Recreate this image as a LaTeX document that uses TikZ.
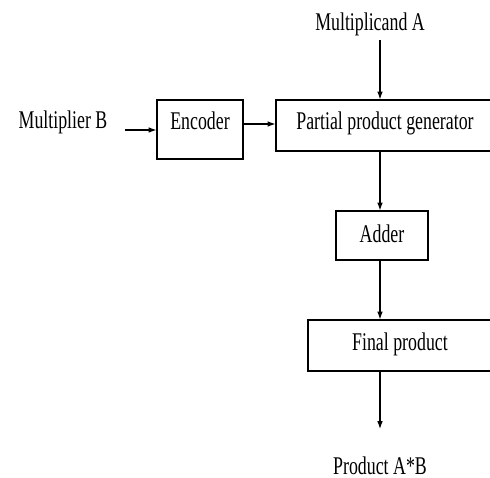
\documentclass[tikz,border=0pt]{standalone}
\usepackage{fontspec}
\setmainfont{Liberation Serif}
\usepackage{graphicx}
\usetikzlibrary{arrows.meta,calc}

\newcommand{\nar}[1]{\scalebox{0.7}[1]{#1}}

\begin{document}
\begin{tikzpicture}[
        x=0.02cm,y=-0.02cm,
        txt/.style={
          font=\fontsize{14.5}{17}\selectfont,
          inner sep=0pt,
          anchor=base
          },
        blk/.style={
          txt,
          draw,
          line width=0.6pt,
          inner xsep=0pt,
          inner ysep=0pt
          },
        line/.style={
          line width=0.6pt,
          ->
          },
        >={Latex[length=4.5pt,width=3.2pt]}
        ]
        \useasboundingbox (0,0) rectangle (490,477);
        % inputs and output
        \node[txt] (mcand) at (370,30) {\nar{Multiplicand A}};
        \node[txt] (mplier) at (63,128) {\nar{Multiplier B}};
        \node[txt] (prod) at (380,474) {\nar{Product A*B}};
        % blocks
        \node[blk,minimum width=1.72cm,text height=0.58cm,text depth=0.60cm] (enc) at (200,129) {\nar{Encoder}};
        \node[blk,minimum width=4.36cm,text height=0.58cm,text depth=0.44cm] (ppg) at (385,129) {\nar{Partial product generator}};
        \node[blk,minimum width=1.84cm,text height=0.62cm,text depth=0.36cm] (add) at (382,242) {\nar{Adder}};
        \node[blk,minimum width=3.68cm,text height=0.60cm,text depth=0.42cm] (fin) at (400,350) {\nar{Final product}};
        % arrow ends
        \coordinate (ta) at (380,40);
        \coordinate (tb) at (380,429);
        \coordinate (tc) at (125,130);
        \draw[line] (ta) -- (ta |- ppg.north);
        \draw[line] (tc) -- (tc -| enc.west);
        \draw[line] ([yshift=0.11cm]enc.east) -- ([yshift=0.11cm]enc.east -| ppg.west);
        \draw[line] (ta |- ppg.south) -- (ta |- add.north);
        \draw[line] (ta |- add.south) -- (ta |- fin.north);
        \draw[line] (ta |- fin.south) -- (tb);
        \end{tikzpicture}
\end{document}
